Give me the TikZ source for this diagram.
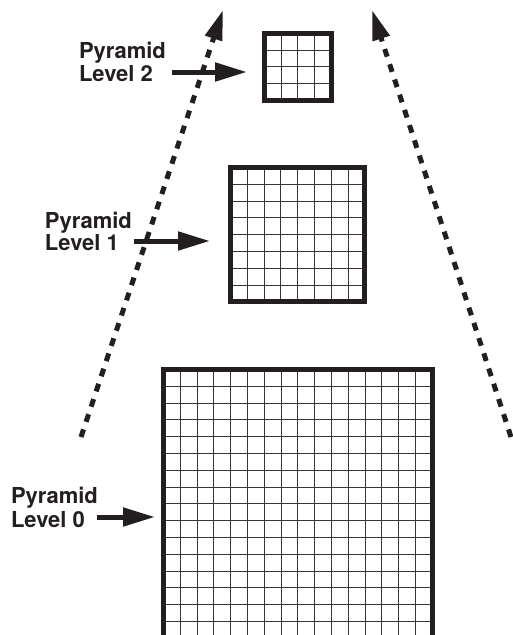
\documentclass[tikz,border=0pt]{standalone}
\usepackage{fontspec}
\setmainfont{TeX Gyre Heros}
\usetikzlibrary{arrows.meta}
\definecolor{ink}{HTML}{231F20}
\tikzset{
  pbox/.style={draw=ink, line width=5pt, inner sep=0pt, outer sep=0pt},
  gridln/.style={draw=ink!90, line width=1.4pt},
  lbl/.style={anchor=base west, inner sep=0pt, outer sep=0pt, text=ink,
    font=\fontsize{22}{26}\selectfont\bfseries},
  levelarrow/.style={draw=ink, line width=5pt, -{Triangle[length=32pt,width=18pt]}},
  pyrarrow/.style={draw=ink, line width=5pt, dash pattern=on 8pt off 8pt,
    -{Triangle[length=30pt,width=17pt]}},
}
\newcommand\pyrgrid[4]{% x0, y0, cell, n
  \pgfmathtruncatemacro\nm{#4-1}
  \pgfmathsetmacro\gend{#4*#3}
  \foreach \i in {1,...,\nm}{
    \pgfmathsetmacro\px{floor(#1+\i*#3)+0.5}
    \pgfmathsetmacro\py{floor(#2+\i*#3)+0.5}
    \draw[gridln] (\px,{#2}) -- (\px,{#2+\gend});
    \draw[gridln] ({#1},\py) -- ({#1+\gend},\py);
  }}
\begin{document}
\begin{tikzpicture}[x=1pt,y=-1pt]
\useasboundingbox (0,0) rectangle (513,635);
\clip (0,0) rectangle (513,635);
% grids
\pyrgrid{264.5}{33.5}{16.625}{4}
\pyrgrid{230.5}{167.5}{16.8}{8}
\pyrgrid{163.5}{369.5}{16.8}{16}
% boxes
\node[pbox, minimum width=66.5pt, minimum height=66.5pt] (b2) at (297.75,66.75) {};
\node[pbox, minimum width=134.4pt, minimum height=134.4pt] (b1) at (297.7,234.7) {};
\node[pbox, minimum width=268.8pt, minimum height=268.8pt] (b0) at (297.9,503.9) {};
% labels
\node[lbl] (l2a) at (79,58) {Pyramid};
\node[lbl] (l2b) at (79,81) {Level 2};
\node[lbl] (l1a) at (45,228) {Pyramid};
\node[lbl] (l1b) at (45,250) {Level 1};
\node[lbl] (l0a) at (11,503) {Pyramid};
\node[lbl] (l0b) at (11,527) {Level 0};
% level arrows
\coordinate (a2s) at (172,72);
\coordinate (a2e) at (247,72);
\coordinate (a1s) at (134,241);
\coordinate (a1e) at (210,241);
\coordinate (a0s) at (97,517);
\coordinate (a0e) at (155,517);
\draw[levelarrow] (a2s) -- (a2e);
\draw[levelarrow] (a1s) -- (a1e);
\draw[levelarrow] (a0s) -- (a0e);
% pyramid edges
\coordinate (pls) at (81,437);
\coordinate (ple) at (223,10);
\coordinate (prs) at (511,437);
\coordinate (pre) at (372,10);
\draw[pyrarrow] (pls) -- (ple);
\draw[pyrarrow] (prs) -- (pre);
\end{tikzpicture}
\end{document}
